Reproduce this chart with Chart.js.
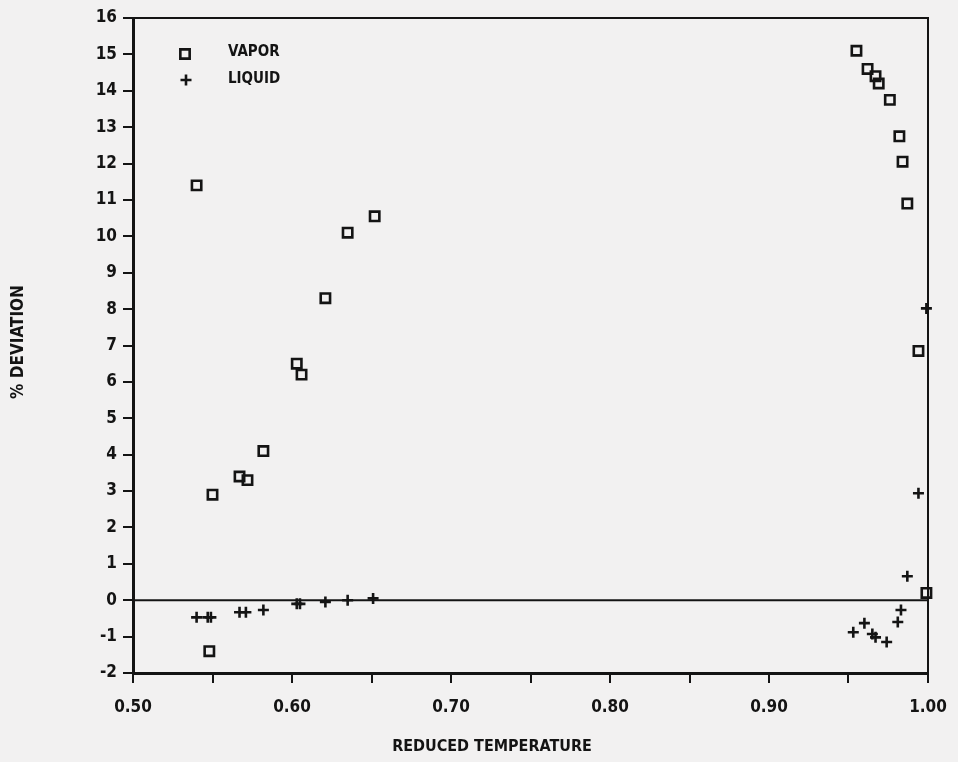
<!DOCTYPE html>
<html>
<head>
<meta charset="utf-8">
<script src="https://cdn.jsdelivr.net/npm/chart.js@4/dist/chart.umd.min.js"></script>
<style>
  html, body { margin: 0; padding: 0; background: #f2f1f1; }
  #wrap { width: 958px; height: 762px; }
</style>
</head>
<body>
<div id="wrap"><canvas id="c" width="958" height="762"></canvas></div>
<script>
// Reduced temperature (Tr) and % deviation for the vapor and liquid phases
const vaporTr  = [0.540, 0.550, 0.548, 0.567, 0.572, 0.582, 0.603, 0.606, 0.621, 0.635, 0.652,
                  0.955, 0.962, 0.967, 0.969, 0.976, 0.982, 0.984, 0.987, 0.994, 0.999];
const vaporDev = [11.4, 2.9, -1.4, 3.4, 3.3, 4.1, 6.5, 6.2, 8.3, 10.1, 10.55,
                  15.1, 14.6, 14.4, 14.2, 13.75, 12.75, 12.05, 10.9, 6.85, 0.2];

const liquidTr  = [0.540, 0.547, 0.549, 0.567, 0.571, 0.582, 0.603, 0.605, 0.621, 0.635, 0.651,
                   0.953, 0.960, 0.965, 0.967, 0.974, 0.981, 0.983, 0.987, 0.994, 0.999];
const liquidDev = [-0.47, -0.47, -0.47, -0.33, -0.33, -0.27, -0.10, -0.10, -0.05, 0.0, 0.05,
                   -0.88, -0.63, -0.93, -1.02, -1.15, -0.60, -0.27, 0.66, 2.94, 8.02];

const seriesNames = ['VAPOR', 'LIQUID'];
const xTickLabels = ['0.50', '0.60', '0.70', '0.80', '0.90', '1.00'];
const yTickLabels = ['-2', '-1', '0', '1', '2', '3', '4', '5', '6', '7', '8', '9', '10', '11', '12', '13', '14', '15', '16'];
const xTitle = 'REDUCED TEMPERATURE';
const yTitle = '% DEVIATION';

const INK = '#141414';
const FONT = "'DejaVu Sans Condensed', 'DejaVu Sans', sans-serif";

const toPoints = (xs, ys) => xs.map((x, i) => ({ x: x, y: ys[i] }));

// Frame, zero line, legend and axis titles
const decorations = {
  id: 'decorations',
  beforeDatasetsDraw(chart) {
    const { ctx, chartArea: a, scales } = chart;
    ctx.save();
    ctx.strokeStyle = INK;
    ctx.lineWidth = 2;
    ctx.beginPath();
    ctx.moveTo(a.left, a.top); ctx.lineTo(a.right, a.top); ctx.lineTo(a.right, a.bottom);
    ctx.stroke();
    const y0 = scales.y.getPixelForValue(0);
    ctx.lineWidth = 2;
    ctx.beginPath();
    ctx.moveTo(a.left, y0); ctx.lineTo(a.right, y0);
    ctx.stroke();
    ctx.restore();
  },
  afterDraw(chart) {
    const { ctx } = chart;
    ctx.save();
    ctx.fillStyle = INK;
    ctx.strokeStyle = INK;
    // legend
    const sets = chart.data.datasets;
    const markY = [54, 80];
    const textY = [52, 79];
    sets.forEach((ds, i) => {
      const y = markY[i];
      ctx.lineWidth = ds.borderWidth;
      ctx.beginPath();
      if (ds.pointStyle === 'rect') {
        const s = Math.SQRT1_2 * ds.pointRadius;
        ctx.rect(185 - s, y - s, 2 * s, 2 * s);
      } else {
        const r = ds.pointRadius;
        ctx.moveTo(186 - r, y); ctx.lineTo(186 + r, y);
        ctx.moveTo(186, y - r); ctx.lineTo(186, y + r);
      }
      ctx.stroke();
      ctx.font = "bold 15px " + FONT;
      ctx.textAlign = 'left';
      ctx.textBaseline = 'middle';
      ctx.fillText(ds.label, 228, textY[i]);
    });
    // axis titles
    ctx.font = "bold 16px " + FONT;
    ctx.textAlign = 'center';
    ctx.textBaseline = 'middle';
    ctx.fillText(xTitle, 492, 747);
    ctx.save();
    ctx.translate(19, 342);
    ctx.rotate(-Math.PI / 2);
    ctx.font = "bold 17px " + FONT;
    ctx.fillText(yTitle, 0, 0);
    ctx.restore();
    ctx.restore();
  }
};

new Chart(document.getElementById('c'), {
  type: 'scatter',
  data: {
    datasets: [
      {
        label: seriesNames[0],
        data: toPoints(vaporTr, vaporDev),
        pointStyle: 'rect',
        pointRadius: 6.6,
        borderWidth: 2.6,
        borderColor: INK,
        backgroundColor: 'rgba(0,0,0,0)',
        clip: false
      },
      {
        label: seriesNames[1],
        data: toPoints(liquidTr, liquidDev),
        pointStyle: 'cross',
        pointRadius: 5.5,
        borderWidth: 2.6,
        borderColor: INK,
        backgroundColor: INK,
        clip: false
      }
    ]
  },
  options: {
    responsive: false,
    animation: false,
    devicePixelRatio: 1,
    layout: { padding: { top: 18, right: 30, left: 0, bottom: 0 } },
    plugins: { legend: { display: false }, tooltip: { enabled: false } },
    scales: {
      x: {
        type: 'linear',
        min: 0.5,
        max: 1.0,
        afterFit(scale) {
          scale.height = 89;
          scale.paddingLeft = 0;
          scale.paddingRight = 0;
        },
        border: { display: true, color: INK, width: 3 },
        grid: { drawOnChartArea: false, drawTicks: true, tickLength: 10, color: INK, lineWidth: 2 },
        ticks: {
          stepSize: 0.05,
          autoSkip: false,
          maxRotation: 0,
          padding: 14,
          color: INK,
          font: { family: FONT, size: 17, weight: 'bold' },
          callback(v) {
            const k = Math.round(v * 100);
            return k % 10 === 0 ? xTickLabels[(k - 50) / 10] : '';
          }
        }
      },
      y: {
        min: -2,
        max: 16,
        afterFit(scale) { scale.width = 133; },
        border: { display: true, color: INK, width: 3 },
        grid: { drawOnChartArea: false, drawTicks: true, tickLength: 10, color: INK, lineWidth: 2 },
        ticks: {
          stepSize: 1,
          autoSkip: false,
          padding: 6,
          color: INK,
          font: { family: FONT, size: 17, weight: 'bold' },
          callback(v) { return yTickLabels[Math.round(v) + 2]; }
        }
      }
    }
  },
  plugins: [decorations]
});
</script>
</body>
</html>
